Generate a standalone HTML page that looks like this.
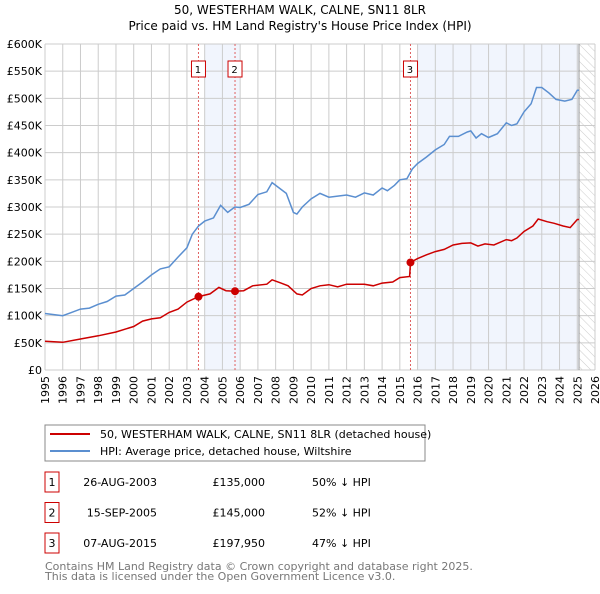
<!DOCTYPE html>
<html><head><meta charset="utf-8"><style>
body{margin:0;background:#fff;font-family:"DejaVu Sans","Liberation Sans",sans-serif}
svg text{font-family:"DejaVu Sans","Liberation Sans",sans-serif}
</style></head><body>
<svg id="c" width="600" height="590" xmlns="http://www.w3.org/2000/svg">
<defs><pattern id="hatch" width="6" height="6" patternUnits="userSpaceOnUse" patternTransform="rotate(-45)"><line x1="0" y1="0" x2="0" y2="6" stroke="#ccc" stroke-width="1"/></pattern></defs>
<text x="300" y="14" font-size="12" text-anchor="middle">50, WESTERHAM WALK, CALNE, SN11 8LR</text>
<text x="300" y="30" font-size="12" text-anchor="middle">Price paid vs. HM Land Registry's House Price Index (HPI)</text>
<g id="plot"></g>
<rect x="45" y="425" width="380" height="36" fill="#fff" stroke="#888"/>
<line x1="50" y1="434" x2="90" y2="434" stroke="#cc0000" stroke-width="2"/>
<text x="100" y="438" font-size="11">50, WESTERHAM WALK, CALNE, SN11 8LR (detached house)</text>
<line x1="50" y1="451" x2="90" y2="451" stroke="#5b8fd0" stroke-width="2"/>
<text x="100" y="455" font-size="11">HPI: Average price, detached house, Wiltshire</text>
<g id="tbl" font-size="11"></g>
<text x="45" y="570" font-size="11" fill="#777">Contains HM Land Registry data © Crown copyright and database right 2025.</text>
<text x="45" y="580" font-size="11" fill="#777">This data is licensed under the Open Government Licence v3.0.</text>
</svg>
<script>
const yearTicks=[1995,1996,1997,1998,1999,2000,2001,2002,2003,2004,2005,2006,2007,2008,2009,2010,2011,2012,2013,2014,2015,2016,2017,2018,2019,2020,2021,2022,2023,2024,2025,2026];
const valueTicks=[0,50,100,150,200,250,300,350,400,450,500,550,600];
const hpiYears=[1995,1995.5,1996,1996.5,1997,1997.5,1998,1998.5,1999,1999.5,2000,2000.5,2001,2001.5,2002,2002.5,2003,2003.3,2003.65,2004,2004.5,2004.9,2005.3,2005.7,2006,2006.5,2007,2007.5,2007.8,2008.2,2008.6,2009,2009.2,2009.5,2010,2010.5,2011,2011.5,2012,2012.5,2013,2013.5,2014,2014.3,2014.7,2015,2015.4,2015.7,2016,2016.5,2017,2017.5,2017.8,2018.3,2018.8,2019,2019.3,2019.6,2020,2020.5,2021,2021.3,2021.6,2022,2022.4,2022.7,2023,2023.4,2023.8,2024.3,2024.7,2025,2025.1];
const hpiValues=[104,102,100,106,112,114,121,126,136,138,150,162,175,186,190,208,225,250,265,274,280,303,290,300,299,305,323,328,345,335,325,290,287,300,315,325,318,320,322,318,326,322,335,330,340,350,352,370,380,392,405,415,430,430,438,440,427,435,428,435,455,450,453,475,490,520,520,510,498,495,498,515,515];
const priceYears=[1995,1996,1997,1998,1999,2000,2000.5,2001,2001.5,2002,2002.5,2003,2003.65,2004.3,2004.8,2005.2,2005.7,2006.2,2006.7,2007.5,2007.8,2008.3,2008.7,2009.2,2009.5,2010,2010.5,2011,2011.5,2012,2013,2013.5,2014,2014.6,2015,2015.55,2015.6,2016,2016.5,2017,2017.5,2018,2018.5,2019,2019.4,2019.8,2020.3,2021,2021.3,2021.6,2022,2022.5,2022.8,2023.3,2023.7,2024.2,2024.6,2025,2025.1];
const priceValues=[53,51,57,63,70,80,90,94,96,106,112,125,135,140,152,146,145,146,155,158,166,160,155,140,138,150,155,157,153,158,158,155,160,162,170,172,198,205,212,218,222,230,233,234,228,232,230,240,238,243,255,265,278,273,270,265,262,277,277];
const saleYears=[2003.65,2005.71,2015.6];
const saleValues=[135,145,197.95];
const saleLabels=["1","2","3"];
const saleDates=["26-AUG-2003","15-SEP-2005","07-AUG-2015"];
const salePrices=["£135,000","£145,000","£197,950"];
const saleDiffs=["50% ↓ HPI","52% ↓ HPI","47% ↓ HPI"];
const X0=45,X1=595,Y0=370,Y1=44,YMIN=1995,YMAX=2026,VMAX=600;
const xs=y=>X0+(y-YMIN)/(YMAX-YMIN)*(X1-X0);
const ys=v=>Y0-v/VMAX*(Y0-Y1);
const NS="http://www.w3.org/2000/svg";
const g=document.getElementById('plot');
function mk(t,a,p){const e=document.createElementNS(NS,t);for(const k in a)e.setAttribute(k,a[k]);(p||g).appendChild(e);return e;}
let e;
e=mk('rect',{x:xs(2004),y:Y1,width:xs(2006)-xs(2004),height:Y0-Y1,fill:'#eef3fc',opacity:0.8});


e=mk('rect',{x:xs(2016),y:Y1,width:xs(2025.1)-xs(2016),height:Y0-Y1,fill:'#eef3fc',opacity:0.8});


e=mk('rect',{x:xs(2025.1),y:Y1,width:X1-xs(2025.1),height:Y0-Y1,fill:'url(#hatch)'});


yearTicks.forEach(yr=>{
 e=mk('line',{x1:xs(yr),x2:xs(yr),y1:Y1,y2:Y0,stroke:'#ccc','stroke-width':1});
 
 
 e=mk('text',{x:0,y:0,'font-size':11,'text-anchor':'end',transform:`translate(${xs(yr)+4},${Y0+6}) rotate(-90)`});
 e.textContent=yr;
 
 
});
valueTicks.forEach(v=>{
 e=mk('line',{x1:X0,x2:X1,y1:ys(v),y2:ys(v),stroke:'#ccc','stroke-width':1});
 
 
 e=mk('text',{x:X0-3,y:ys(v)+4,'font-size':11,'text-anchor':'end'});
 e.textContent=v===0?'£0':'£'+v+'K';
 
 
});
e=mk('line',{x1:xs(2025.1),x2:xs(2025.1),y1:Y1,y2:Y0,stroke:'#999','stroke-width':1});


saleYears.forEach((yr,i)=>{
 e=mk('line',{x1:xs(yr),x2:xs(yr),y1:Y1,y2:Y0,stroke:'#e06060','stroke-width':1,'stroke-dasharray':'2,2'});
 
 
 e=mk('rect',{x:xs(yr)-7,y:61,width:14,height:16,fill:'#fff',stroke:'#cc0000'});
 
 
 e=mk('text',{x:xs(yr)-0.5,y:73,'font-size':10,'text-anchor':'middle'});
 e.textContent=saleLabels[i];
 
 
});
const pts=(a,b)=>a.map((y,i)=>xs(y).toFixed(1)+','+ys(b[i]).toFixed(1)).join(' ');
e=mk('polyline',{points:pts(hpiYears,hpiValues),fill:'none',stroke:'#5b8fd0','stroke-width':1.5});


e=mk('polyline',{points:pts(priceYears,priceValues),fill:'none',stroke:'#cc0000','stroke-width':1.5});


saleYears.forEach((yr,i)=>{
 e=mk('circle',{cx:xs(yr),cy:ys(saleValues[i]),r:4,fill:'#cc0000'});
 
 
});
const t=document.getElementById('tbl');
saleLabels.forEach((l,i)=>{
 const cy=482+i*30.5;
 e=mk('rect',{x:45,y:cy-10,width:14,height:20,fill:'#fff',stroke:'#cc0000'},t);
 
 
 e=mk('text',{x:52,y:cy+4,'text-anchor':'middle'},t);e.textContent=l;
 
 
 e=mk('text',{x:157,y:cy+4,'text-anchor':'end'},t);e.textContent=saleDates[i];
 
 
 e=mk('text',{x:265,y:cy+4,'text-anchor':'end'},t);e.textContent=salePrices[i];
 
 
 e=mk('text',{x:312,y:cy+4},t);e.textContent=saleDiffs[i];
 
 
});
</script>
</body></html>
